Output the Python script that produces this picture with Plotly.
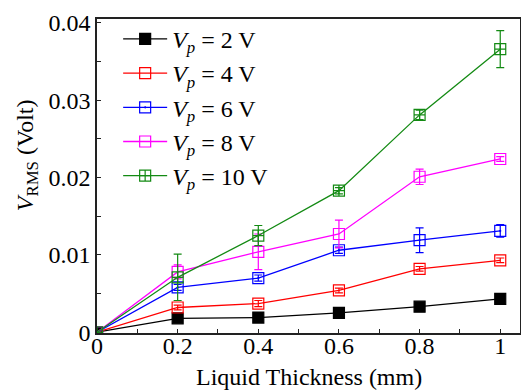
import plotly.graph_objects as go

thickness = [0, 0.2, 0.4, 0.6, 0.8, 1.0]
labels = ["2", "4", "6", "8", "10"]
v2 = [0, 0.0018, 0.0019, 0.0025, 0.0033, 0.0043]
v4 = [0, 0.0032, 0.0037, 0.0054, 0.0082, 0.0093]
v6 = [0, 0.0058, 0.0070, 0.0106, 0.0119, 0.0131]
v8 = [0, 0.0078, 0.0104, 0.0127, 0.0201, 0.0224]
v10 = [0, 0.0071, 0.0125, 0.0183, 0.0281, 0.0366]
e2 = [0, 0.0002, 0.0002, 0.0002, 0.0002, 0.0003]
e4 = [0, 0.0003, 0.0004, 0.0003, 0.0003, 0.0003]
e6 = [0, 0.0004, 0.0004, 0.0004, 0.0016, 0.0008]
e8 = [0, 0.0009, 0.0023, 0.0018, 0.0010, 0.0003]
e10 = [0, 0.0030, 0.0013, 0.0004, 0.0006, 0.0024]
x_ticks = [0, 0.2, 0.4, 0.6, 0.8, 1.0]
x_ticklabels = ["0", "0.2", "0.4", "0.6", "0.8", "1"]
y_ticks = [0, 0.01, 0.02, 0.03, 0.04]
y_ticklabels = ["0", "0.01", "0.02", "0.03", "0.04"]

series = [v2, v4, v6, v8, v10]
errors = [e2, e4, e6, e8, e10]
colors = ["#000000", "#ff0000", "#0000ff", "#ff00ff", "#138a13"]
symbols = ["square", "square-open", "square-open-dot", "square-open", "square-cross-open"]

font = "Liberation Serif"
fig = go.Figure()
for i, (lab, ys, es) in enumerate(zip(labels, series, errors)):
    fig.add_trace(go.Scatter(
        x=thickness, y=ys,
        mode="lines+markers",
        name=f"<i>V</i><sub><i>p</i></sub> = {lab} V",
        legendgroup=f"g{i}",
        line=dict(color=colors[i], width=1.3),
        marker=dict(symbol=symbols[i], size=11, color=colors[i],
                    line=dict(color=colors[i], width=1.2)),
        error_y=dict(type="data", array=es, visible=True,
                     color=colors[i], thickness=1.2, width=4),
    ))

fig.update_layout(
    width=521, height=390,
    margin=dict(l=97, r=1, t=19, b=57),
    paper_bgcolor="white", plot_bgcolor="white",
    font=dict(family=font, size=24, color="black"),
    showlegend=True,
    legend=dict(x=0.05, y=1.007, xanchor="left", yanchor="top",
                bgcolor="rgba(0,0,0,0)", font=dict(family=font, size=24),
                tracegroupgap=0, itemwidth=44),
    xaxis=dict(range=[0, 1.049], tickvals=x_ticks, ticktext=x_ticklabels,
               automargin=False, ticklabelstandoff=-10,
               ticks="inside", ticklen=4, tickcolor="#222",
               minor=dict(ticks="inside", ticklen=4, dtick=0.1, tickcolor="#222"),
               showline=True, linecolor="#222", linewidth=1.5, mirror=True,
               showgrid=False, zeroline=False,
               tickfont=dict(family=font, size=24)),
    yaxis=dict(range=[-0.0001, 0.0405], tickvals=y_ticks, ticktext=y_ticklabels,
               automargin=False,
               ticks="inside", ticklen=4, tickcolor="#222",
               minor=dict(ticks="inside", ticklen=4, dtick=0.005, tickcolor="#222"),
               showline=True, linecolor="#222", linewidth=1.5, mirror=True,
               showgrid=False, zeroline=False,
               tickfont=dict(family=font, size=24)),
    annotations=[
        dict(text="Liquid Thickness (mm)", xref="paper", yref="paper",
             x=0.5, y=-0.14, xanchor="center", yanchor="middle",
             showarrow=False, font=dict(family=font, size=24)),
        dict(text="<i>V</i><sub>RMS</sub> (Volt)", xref="paper", yref="paper",
             x=-0.165, y=0.567, xanchor="center", yanchor="middle", textangle=-90,
             showarrow=False, font=dict(family=font, size=24)),
    ],
)

fig.write_html("out.html", config={"displayModeBar": False},
               post_script="document.body.style.margin='0';document.body.style.padding='0';")
